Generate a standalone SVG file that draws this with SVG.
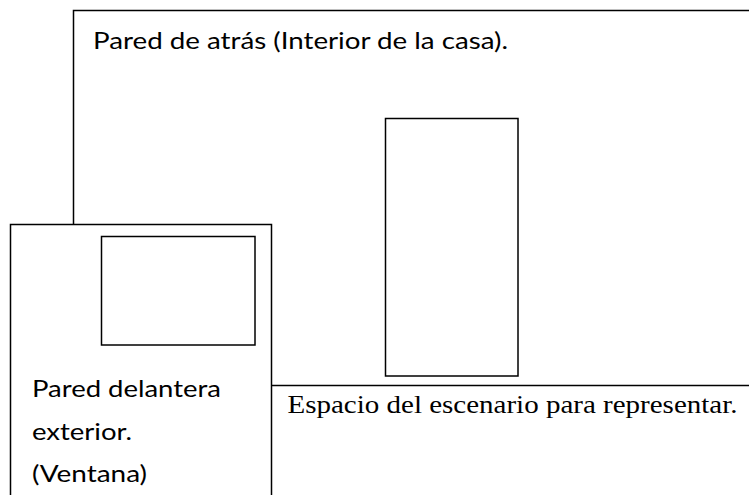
<svg xmlns="http://www.w3.org/2000/svg" width="749" height="495" viewBox="0 0 749 495">
<style>
.ln{fill:none;stroke:#000;stroke-width:1.5}
.cal{font-family:Lato,"Open Sans","Noto Sans",sans-serif;font-size:24px;fill:#000}
.tnr{font-family:"Liberation Serif","Times New Roman",serif;font-size:26px;fill:#000}
</style>
<rect width="749" height="495" fill="#fff"/>
<g id="back-wall">
<path class="ln" d="M73.5,224 V10.5 H749"/>
<text class="cal" x="93" y="48.5" textLength="415" lengthAdjust="spacingAndGlyphs">Pared de atrás (Interior de la casa).</text>
</g>
<g id="door">
<rect class="ln" x="385.5" y="118.5" width="132.5" height="257.5"/>
</g>
<g id="stage">
<path class="ln" d="M271.5,385.5 H749"/>
<text class="tnr" x="287.5" y="412.5" textLength="450" lengthAdjust="spacingAndGlyphs">Espacio del escenario para representar.</text>
</g>
<g id="front-wall">
<path class="ln" d="M10.5,495 V224.5 H271.5 V495"/>
<text class="cal" x="32" y="397" textLength="189" lengthAdjust="spacingAndGlyphs">Pared delantera</text>
<text class="cal" x="32" y="440" textLength="100" lengthAdjust="spacingAndGlyphs">exterior.</text>
<text class="cal" x="32" y="482" textLength="115" lengthAdjust="spacingAndGlyphs">(Ventana)</text>
</g>
<g id="window">
<rect class="ln" x="101.5" y="236.5" width="153.5" height="108.5"/>
</g>
</svg>
